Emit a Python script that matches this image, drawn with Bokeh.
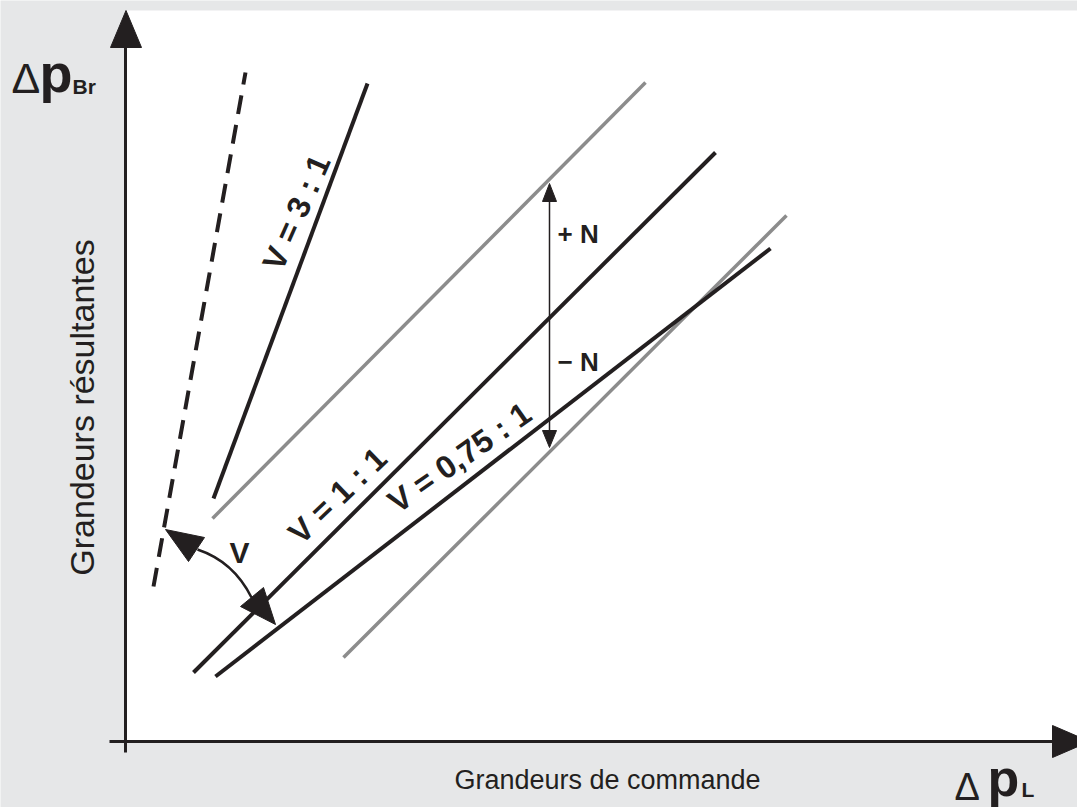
from bokeh.plotting import figure
from bokeh.models import Range1d
from bokeh.core.properties import value
from bokeh.embed import file_html
from bokeh.resources import INLINE

# ---- diagram data (x to the right, y downward, page pixels) ----
dashed_x = [153, 245]
dashed_y = [586, 72]
v31_x = [213, 367]
v31_y = [498, 83]
v11_x = [193, 715]
v11_y = [672, 152]
v075_x = [215, 770]
v075_y = [676, 248]
gray_hi_x = [212, 645]
gray_hi_y = [518, 82]
gray_lo_x = [343, 786]
gray_lo_y = [657, 215]

# axes
yaxis_x = [125, 125]
yaxis_y = [752, 44]
xaxis_x = [109, 1056]
xaxis_y = [741, 741]
yhead_x = [110, 141, 125.5]
yhead_y = [47, 47, 10]
xhead_x = [1052, 1052, 1089]
xhead_y = [725, 757, 741]

# +N / -N arrow
n_x = [549, 549]
n_y = [198, 433]
n_top_x = [542, 556, 549]
n_top_y = [201, 201, 183]
n_bot_x = [542, 556, 549]
n_bot_y = [430, 430, 447]

# curved V arrow
varc_x0, varc_y0 = 197, 549
varc_x1, varc_y1 = 251, 597
varc_cx, varc_cy = 233, 561
vhead1_x = [165, 188, 204]
vhead1_y = [529, 561, 537]
vhead2_x = [275, 240, 263]
vhead2_y = [624, 606, 587]

# labels
rot_labels = ["V = 3 : 1", "V = 1 : 1", "V = 0,75 : 1"]
rot_x = [296, 337, 459]
rot_y = [212, 495, 457]
rot_angle = [66, 44, 35]

BLACK = "#231f20"
GRAY = "#8c8c8c"
BG = "#e6e7e8"
FONT = value("Liberation Sans")

p = figure(width=1077, height=807, x_range=Range1d(0, 1077), y_range=Range1d(807, 0),
           output_backend="svg", toolbar_location=None, min_border=0,
           x_axis_location=None, y_axis_location=None,
           background_fill_color=BG, border_fill_color=BG)
p.grid.visible = False
p.outline_line_color = None

# white drawing area
p.quad(left=[125], right=[1080], top=[10], bottom=[741], fill_color="white", line_color=None)

# axes
p.line(yaxis_x, yaxis_y, line_color=BLACK, line_width=3)
p.line(xaxis_x, xaxis_y, line_color=BLACK, line_width=3)
p.patch(yhead_x, yhead_y, fill_color=BLACK, line_color=BLACK)
p.patch(xhead_x, xhead_y, fill_color=BLACK, line_color=BLACK)

# gray lines
p.line(gray_hi_x, gray_hi_y, line_color=GRAY, line_width=3.5)
p.line(gray_lo_x, gray_lo_y, line_color=GRAY, line_width=3.5)

# black lines
p.line(dashed_x, dashed_y, line_color=BLACK, line_width=4, line_dash="19 11")
p.line(v31_x, v31_y, line_color=BLACK, line_width=4)
p.line(v11_x, v11_y, line_color=BLACK, line_width=4)
p.line(v075_x, v075_y, line_color=BLACK, line_width=4)

# +N/-N arrow
p.line(n_x, n_y, line_color=BLACK, line_width=1.5)
p.patch(n_top_x, n_top_y, fill_color=BLACK, line_color=BLACK)
p.patch(n_bot_x, n_bot_y, fill_color=BLACK, line_color=BLACK)

# curved V arrow
p.quadratic(x0=[varc_x0], y0=[varc_y0], x1=[varc_x1], y1=[varc_y1], cx=[varc_cx], cy=[varc_cy],
            line_color=BLACK, line_width=2.5)
p.patch(vhead1_x, vhead1_y, fill_color=BLACK, line_color=BLACK)
p.patch(vhead2_x, vhead2_y, fill_color=BLACK, line_color=BLACK)

# rotated labels
for t, x, y, a in zip(rot_labels, rot_x, rot_y, rot_angle):
    p.text(x=[x], y=[y], text=[t], angle=a, angle_units="deg", text_font=FONT,
           text_font_size="32px", text_font_style="bold", text_color=BLACK,
           text_align="center", text_baseline="middle")

p.text(x=[239], y=[552], text=["V"], text_font=FONT, text_font_size="30px",
       text_font_style="bold", text_color=BLACK, text_align="center", text_baseline="middle")
p.text(x=[557, 557], y=[233, 361], text=["+ N", "\u2212 N"], text_font=FONT, text_font_size="26px",
       text_font_style="bold", text_color=BLACK, text_align="left", text_baseline="middle")

# axis titles
p.text(x=[607], y=[779], text=["Grandeurs de commande"], text_font=FONT, text_font_size="27px",
       text_color=BLACK, text_align="center", text_baseline="middle")
p.text(x=[81], y=[407], text=["Grandeurs résultantes"], angle=90, angle_units="deg", text_font=FONT,
       text_font_size="34px", text_color=BLACK, text_align="center", text_baseline="middle")

# Delta p_Br
p.text(x=[11], y=[77], text=["\u0394"], text_font=FONT, text_font_size="43px",
       text_color=BLACK, text_align="left", text_baseline="middle")
p.text(x=[39], y=[72], text=["p"], text_font=FONT, text_font_size="54px", text_font_style="bold",
       text_color=BLACK, text_align="left", text_baseline="middle")
p.text(x=[72], y=[86], text=["Br"], text_font=FONT, text_font_size="21px", text_font_style="bold",
       text_color=BLACK, text_align="left", text_baseline="middle")

# Delta p_L
p.text(x=[954], y=[786], text=["\u0394"], text_font=FONT, text_font_size="38px",
       text_color=BLACK, text_align="left", text_baseline="middle")
p.text(x=[987], y=[777], text=["p"], text_font=FONT, text_font_size="52px", text_font_style="bold",
       text_color=BLACK, text_align="left", text_baseline="middle")
p.text(x=[1021], y=[789], text=["L"], text_font=FONT, text_font_size="21px", text_font_style="bold",
       text_color=BLACK, text_align="left", text_baseline="middle")

open("out.html", "w").write(file_html(p, INLINE))
